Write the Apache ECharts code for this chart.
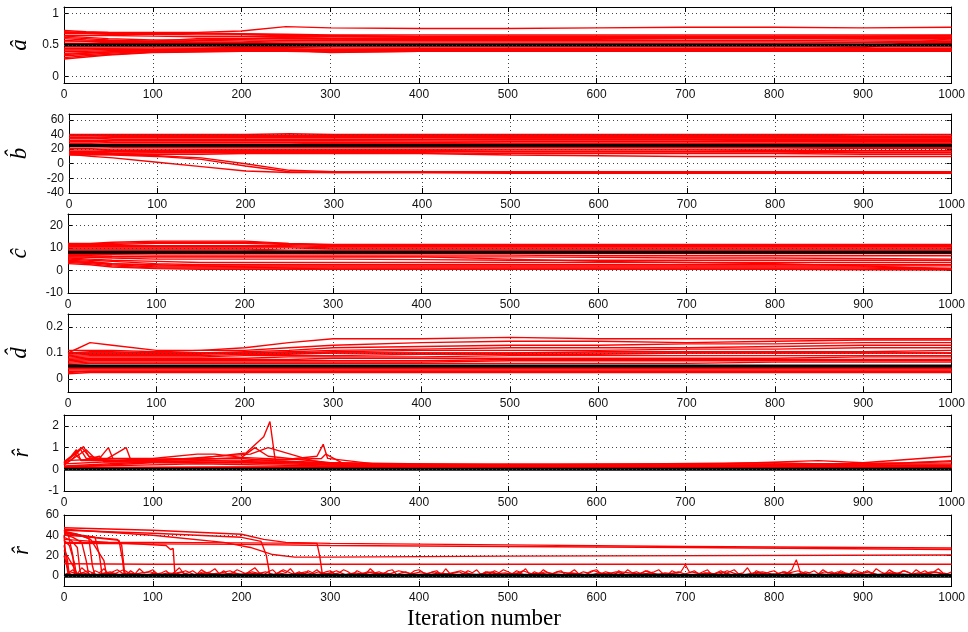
<!DOCTYPE html>
<html><head><meta charset="utf-8">
<script src="https://cdn.jsdelivr.net/npm/echarts@6/dist/echarts.min.js"></script>
<style>html,body{margin:0;background:#fff}#c{width:968px;height:632px}</style>
</head><body><div id="c"></div>
<script>
// ---------- DATA ----------
const iters = [0,25,50,100,150,200,250,300,400,500,600,700,800,900,1000];

const ticksA = [0,0.5,1];
const ticksB = [-40,-20,0,20,40,60];
const ticksC = [-10,0,10,20];
const ticksD = [0,0.1,0.2];
const ticksR1 = [-1,0,1,2];
const ticksR2 = [0,20,40,60];

const truthA = 0.5, truthB = 25, truthC = 8, truthD = 0.05, truthR1 = 0, truthR2 = 0;

const runsA = [
 [0.70,0.70,0.70,0.70,0.70,0.72,0.79,0.77,0.76,0.76,0.77,0.78,0.78,0.77,0.78],
 [0.73,0.71,0.70,0.69,0.69,0.68,0.67,0.66,0.66,0.66,0.66,0.66,0.66,0.66,0.66],
 [0.68,0.68,0.67,0.67,0.66,0.66,0.65,0.65,0.64,0.64,0.64,0.64,0.64,0.64,0.65],
 [0.65,0.65,0.65,0.64,0.63,0.63,0.63,0.63,0.62,0.62,0.62,0.62,0.62,0.62,0.62],
 [0.62,0.60,0.58,0.56,0.60,0.60,0.61,0.60,0.60,0.60,0.60,0.60,0.60,0.61,0.62],
 [0.60,0.58,0.57,0.55,0.57,0.58,0.58,0.58,0.59,0.59,0.59,0.60,0.60,0.60,0.60],
 [0.57,0.56,0.56,0.56,0.55,0.55,0.57,0.58,0.57,0.57,0.57,0.57,0.57,0.58,0.58],
 [0.55,0.55,0.54,0.54,0.54,0.54,0.55,0.55,0.55,0.55,0.55,0.55,0.55,0.55,0.56],
 [0.52,0.52,0.52,0.52,0.53,0.53,0.53,0.53,0.53,0.53,0.53,0.53,0.53,0.54,0.54],
 [0.47,0.47,0.47,0.47,0.47,0.47,0.47,0.47,0.47,0.47,0.47,0.47,0.47,0.47,0.47],
 [0.45,0.45,0.45,0.45,0.45,0.46,0.46,0.45,0.45,0.45,0.45,0.45,0.45,0.45,0.45],
 [0.42,0.42,0.43,0.43,0.44,0.44,0.44,0.43,0.44,0.44,0.44,0.44,0.44,0.44,0.44],
 [0.40,0.40,0.41,0.42,0.42,0.42,0.42,0.42,0.42,0.42,0.42,0.43,0.43,0.46,0.60],
 [0.37,0.38,0.39,0.41,0.41,0.41,0.41,0.40,0.41,0.41,0.41,0.41,0.41,0.41,0.41],
 [0.33,0.35,0.37,0.40,0.40,0.40,0.40,0.39,0.40,0.40,0.40,0.40,0.40,0.40,0.40],
 [0.30,0.33,0.35,0.39,0.40,0.41,0.41,0.41,0.42,0.42,0.42,0.42,0.42,0.42,0.42],
 [0.28,0.31,0.34,0.38,0.39,0.40,0.40,0.40,0.40,0.40,0.40,0.40,0.40,0.40,0.40],
 [0.64,0.62,0.60,0.58,0.58,0.59,0.62,0.63,0.63,0.64,0.64,0.64,0.64,0.64,0.64],
 [0.50,0.51,0.52,0.52,0.52,0.52,0.52,0.51,0.51,0.51,0.51,0.51,0.51,0.51,0.52],
 [0.44,0.44,0.44,0.43,0.43,0.43,0.42,0.38,0.40,0.41,0.41,0.41,0.41,0.41,0.41],
 [0.71,0.69,0.68,0.68,0.68,0.67,0.66,0.64,0.63,0.63,0.63,0.63,0.63,0.63,0.64],
 [0.35,0.37,0.39,0.42,0.43,0.43,0.43,0.43,0.43,0.43,0.43,0.43,0.43,0.43,0.43]
];

const runsB = [
 [40,40,40,40,40,40,41,40,40,40,40,40,40,40,40],
 [38,38,38,39,39,39,39,39,39,39,39,39,39,38,38],
 [36,36,37,37,37,37,37,37,37,37,37,37,37,37,37],
 [34,34,35,35,35,35,35,35,35,35,35,35,35,35,36],
 [32,32,33,33,33,33,33,33,33,34,34,34,34,34,34],
 [30,30,31,31,31,31,31,31,31,31,31,31,32,32,32],
 [28,28,29,29,29,29,29,29,29,30,30,30,30,30,30],
 [26,26,27,27,27,27,27,28,28,28,28,28,28,28,28],
 [23,23,24,24,24,25,25,25,25,26,26,26,26,26,27],
 [21,21,22,22,22,22,22,22,22,22,22,22,22,22,22],
 [19,19,20,20,20,20,20,20,20,20,20,20,20,21,21],
 [17,17,18,18,19,19,19,19,19,19,19,19,18,18,18],
 [15,15,16,16,17,17,17,17,17,16,16,16,16,15,15],
 [13,14,14,15,15,15,15,15,15,14,14,14,14,13,13],
 [12,12,13,13,13,14,14,14,14,12,11,10,10,10,10],
 [39,39,39,38,38,38,38,38,38,38,38,38,38,37,37],
 [35,35,36,36,36,36,36,36,36,36,36,36,36,36,35],
 [31,31,32,32,32,32,32,32,33,33,33,33,33,33,33],
 [24,24,25,26,26,26,26,26,27,27,27,27,27,28,28],
 [16,16,17,17,18,18,18,18,18,17,17,17,17,16,16],
 [13,10,8,2,-4,-10,-12,-12,-12,-12,-12,-12,-12,-12,-12],
 [14,13,12,10,6,-3,-11,-12,-12,-13,-13,-13,-13,-13,-13],
 [15,14,13,11,8,0,-9,-11,-11,-11,-11,-11,-11,-11,-11]
];

const runsC = [
 [12,12,12.5,13,13,13,12,11.5,11.5,11.5,11.5,11.5,11.5,11.5,11.5],
 [11.5,11.5,11.5,12,12,12,11.5,11,11,11,11,11,11,11,11],
 [11,11,11,11,11,11,11,10.5,10.5,10.5,10.5,10.5,10.5,10.5,10.5],
 [10.5,10.5,10.5,10.5,10.5,10.5,10.5,10,10,10,10,10,10,10,10],
 [10,10,10,10,10,10,10,9.5,9.5,9.5,9.5,9.5,9.5,9.5,9.5],
 [9.5,9.5,9.5,9.5,9.5,9.5,9,9,9,9,9,9,9,9,9],
 [9,9,9,9,9,9,8.5,8.5,8.5,8.5,8.5,8.5,8.5,8.5,8.5],
 [7.5,7.5,7.5,7.5,7.5,7.5,7.5,7.5,7.5,7.5,7.5,7.5,7.5,7.5,7.5],
 [7,7,7,6.8,6.8,6.8,6.8,6.8,6.8,6.8,6.5,6.5,6.5,6.5,6.5],
 [6.5,6.5,6.3,6,6,6,6,6,6,6,5.8,5.5,5.5,5.3,5],
 [6,5.8,5.5,5,5,5,5,5,4.8,4.5,4.5,4.5,4.5,4.5,4.5],
 [5.5,5,4.5,4,3.5,3.5,3.5,3.5,3.5,3.5,3.5,3.5,3.5,3.5,3.5],
 [5,4.5,4,3,2.5,2.5,2.5,2.5,2.5,2.5,2.5,2.5,2.5,2.5,2.5],
 [4.5,4,3,2,2,2,2,2,2,2,2,2,2,2,2],
 [4,3.5,2.5,1.5,1.5,1.5,1.5,1.5,1.5,1.5,1.5,1.5,1.5,1.5,1],
 [3.5,3,2,1,1,1,1,1,1,1,1,1,1,1,0.5],
 [4,3.5,3,2.5,2,1.5,1,0.5,0.5,0.5,0.5,0.5,0.5,0.3,0.2],
 [6,6,6,6,6,6,6,6,6,5,4,3.5,3,2,0.5],
 [11.8,11.8,12,12.5,12.5,12.5,11.8,11.2,11.2,11.2,11.2,11.2,11.2,11.2,11.2],
 [8.5,8.5,8.5,8.5,8.5,8.5,8.3,8.2,8.2,8.2,8.2,8.2,8.2,8.2,8.2],
 [3,2.5,1.5,0.8,0.5,0.5,0.5,0.5,0.5,0.5,0.5,0.5,0.5,0.5,0.5]
];

const runsD = [
 [0.10,0.14,0.13,0.11,0.11,0.12,0.14,0.155,0.155,0.16,0.155,0.155,0.155,0.155,0.155],
 [0.11,0.11,0.11,0.105,0.11,0.11,0.12,0.13,0.14,0.145,0.145,0.14,0.145,0.15,0.15],
 [0.10,0.105,0.105,0.10,0.10,0.105,0.11,0.12,0.125,0.13,0.13,0.135,0.135,0.14,0.14],
 [0.095,0.10,0.10,0.10,0.10,0.10,0.105,0.11,0.115,0.12,0.12,0.12,0.125,0.13,0.13],
 [0.09,0.095,0.095,0.095,0.095,0.10,0.10,0.105,0.11,0.11,0.11,0.115,0.115,0.12,0.12],
 [0.085,0.09,0.09,0.09,0.09,0.095,0.095,0.10,0.10,0.10,0.105,0.105,0.105,0.105,0.11],
 [0.08,0.085,0.085,0.085,0.085,0.09,0.09,0.09,0.095,0.095,0.095,0.10,0.10,0.10,0.10],
 [0.075,0.08,0.08,0.08,0.08,0.08,0.085,0.085,0.085,0.09,0.09,0.09,0.09,0.09,0.09],
 [0.07,0.075,0.075,0.075,0.075,0.075,0.075,0.08,0.08,0.08,0.08,0.08,0.08,0.085,0.085],
 [0.065,0.07,0.07,0.07,0.07,0.07,0.07,0.07,0.07,0.075,0.075,0.075,0.075,0.075,0.075],
 [0.06,0.065,0.065,0.065,0.065,0.065,0.065,0.065,0.065,0.07,0.07,0.07,0.07,0.07,0.07],
 [0.055,0.06,0.06,0.06,0.06,0.06,0.06,0.06,0.06,0.06,0.06,0.06,0.065,0.065,0.065],
 [0.045,0.045,0.045,0.045,0.045,0.045,0.045,0.045,0.045,0.045,0.045,0.045,0.045,0.045,0.045],
 [0.04,0.04,0.04,0.04,0.04,0.04,0.04,0.04,0.04,0.04,0.04,0.04,0.04,0.04,0.04],
 [0.035,0.035,0.035,0.035,0.035,0.035,0.035,0.035,0.035,0.035,0.035,0.035,0.035,0.035,0.035],
 [0.03,0.03,0.03,0.03,0.03,0.03,0.03,0.03,0.03,0.03,0.03,0.03,0.03,0.03,0.03],
 [0.025,0.03,0.03,0.03,0.03,0.03,0.03,0.03,0.03,0.03,0.03,0.03,0.03,0.03,0.03],
 [0.02,0.025,0.025,0.025,0.025,0.025,0.025,0.025,0.025,0.025,0.025,0.025,0.025,0.025,0.025],
 [0.1,0.1,0.1,0.1,0.1,0.1,0.1,0.1,0.1,0.1,0.1,0.1,0.1,0.1,0.1]
];

const runsR1 = [
 [[0,0.2],[10,0.5],[20,1.0],[30,0.5],[60,0.4],[100,0.45],[200,0.5],[300,0.2],[500,0.1],[1000,0.1]],
 [[0,0.3],[15,0.8],[22,1.05],[28,0.6],[40,0.5],[50,1.0],[55,0.5],[100,0.4],[150,0.45],[200,0.55],[215,1.0],[230,0.6],[300,0.3],[400,0.2],[1000,0.15]],
 [[0,0.2],[25,0.9],[35,0.5],[45,0.4],[70,1.0],[75,0.45],[150,0.5],[205,0.75],[225,1.5],[232,2.2],[238,0.4],[300,0.3],[500,0.2],[1000,0.2]],
 [[0,0.3],[18,0.95],[25,0.5],[100,0.5],[150,0.7],[170,0.7],[200,0.55],[250,0.45],[285,0.6],[292,1.15],[297,0.5],[350,0.25],[1000,0.25]],
 [[0,0.25],[12,0.7],[20,0.4],[100,0.4],[210,0.7],[230,1.0],[280,0.4],[310,0.2],[700,0.2],[850,0.4],[900,0.3],[1000,0.6]],
 [[0,0.15],[100,0.35],[200,0.4],[290,0.5],[295,0.7],[320,0.15],[1000,0.15]],
 [[0,0.1],[100,0.3],[300,0.3],[400,0.15],[800,0.3],[900,0.2],[1000,0.4]],
 [[0,0.35],[8,0.6],[14,0.9],[19,0.4],[40,0.6],[45,0.35],[120,0.45],[300,0.25],[600,0.1],[1000,0.1]],
 [[0,0.05],[200,0.1],[500,0.05],[1000,0.05]],
 [[0,0.12],[150,0.25],[300,0.15],[600,0.12],[1000,0.1]],
 [[0,0.25],[50,0.35],[150,0.3],[250,0.35],[320,0.2],[700,0.15],[950,0.3],[1000,0.35]],
 [[0,0.08],[300,0.12],[1000,0.05]],
 [[0,0.4],[30,0.45],[100,0.35],[200,0.3],[300,0.2],[1000,0.18]]
];

const runsR2 = [
 [[0,47.5],[100,45],[200,41],[225,36],[250,33],[300,32],[500,30.5],[700,29],[1000,27.5]],
 [[0,46],[100,40],[180,33],[210,28],[235,21],[260,18.5],[300,18.5],[500,19.5],[1000,20.5]],
 [[0,33],[100,33],[200,32.5],[285,32],[288,20],[291,2],[295,0]],
 [[0,32],[100,31.5],[200,31],[300,30],[500,29],[700,28],[1000,26]],
 [[0,12],[100,11.5],[1000,11.5]],
 [[0,45],[100,42],[200,38],[222,34],[228,20],[232,0]],
 [[0,40],[20,39],[60,36],[65,30],[68,5],[70,0]],
 [[0,42],[30,38],[62,35],[66,15],[68,0]],
 [[0,36],[50,33],[115,30],[120,26],[123,27],[125,0]],
 [[0,43],[20,40],[35,38],[40,20],[43,0]],
 [[0,44],[15,41],[28,37],[32,10],[35,0]],
 [[0,41],[10,38],[20,33],[25,15],[28,0]],
 [[0,38],[8,35],[15,28],[18,5],[20,0]],
 [[0,45],[5,40],[10,20],[12,0]],
 [[0,30],[4,15],[6,0]],
 [[0,40],[3,10],[5,0]],
 [[0,25],[10,10],[15,2]],
 [[0,43],[18,40],[30,36],[45,15],[48,0]],
 [[0,35],[6,30],[12,12],[14,0]],
 [[0,20],[5,5],[8,0]]
];

// noise near zero in the last panel, one value every 5 iterations
const noiseR2 = [
 0,3,6,2,8,4,1,5,3,7, 2,4,6,3,1,5,2,7,3,4, 6,2,3,5,1,4,8,2,3,5, 2,6,3,4,7,2,5,1,3,6,
 4,2,5,8,3,1,4,6,2,5, 3,7,2,4,1,5,3,6,2,4, 5,2,3,6,4,1,5,3,2,7, 3,4,2,5,6,1,3,4,2,5,
 6,3,2,4,5,1,7,2,3,4, 2,5,3,6,1,4,2,5,3,6, 4,2,5,3,7,1,4,2,6,3, 2,4,5,1,3,6,2,4,3,5,
 6,2,4,3,1,5,2,6,3,4, 2,5,3,4,6,2,1,5,3,4, 11,3,5,2,4,6,1,3,5,2, 4,6,2,3,8,1,5,3,2,4,
 5,2,4,3,6,16,2,4,3,5, 2,6,3,4,1,5,3,2,6,4, 3,5,2,7,4,2,6,3,1,5, 4,2,6,3,5,2,4,7,3,2,
 4
];
// second and third noise traces, one value every 10 iterations
const noiseR2b = [
 2,1,3,0,2,4,1,3,2,0, 3,1,2,4,0,2,3,1,2,3, 1,4,2,0,3,1,2,4,1,2, 3,0,2,1,4,2,3,1,0,2,
 4,1,3,2,0,3,1,2,4,1, 2,3,0,1,4,2,1,3,2,0, 3,2,4,1,0,2,3,1,2,4, 1,0,3,2,4,1,2,0,3,1,
 2,4,1,3,0,2,1,4,2,3, 1,2,0,4,2,1,3,2,4,1
];
const noiseR2c = [
 4,2,5,1,3,2,6,1,3,4, 1,3,2,5,1,4,2,3,5,1, 3,2,4,1,6,2,3,1,4,2, 5,1,3,2,4,1,2,5,3,1,
 2,4,1,3,5,2,1,4,2,3, 1,5,2,3,1,4,3,2,1,5, 2,1,4,3,2,5,1,3,2,1, 4,2,3,1,5,2,1,3,4,2,
 1,3,5,2,1,4,2,3,1,2, 4,1,3,2,5,1,2,4,3,1
];

const yNames = ['\u00e2','b\u0302','\u0109','d\u0302','r\u0302','r\u0302'];
const xLabel = 'Iteration number';

// ---------- LAYOUT ----------
const layout = [
 {top:7,   height:76, min:-0.1, max:1.1,  gap:33},
 {top:114, height:79, min:-40,  max:68,   gap:38},
 {top:214, height:79, min:-10,  max:25,   gap:37},
 {top:314, height:78, min:-0.05,max:0.25, gap:37},
 {top:415, height:76, min:-1,   max:2.5,  gap:31},
 {top:515, height:71, min:-10,  max:60,   gap:31}
];
const ticksList = [ticksA,ticksB,ticksC,ticksD,ticksR1,ticksR2];
const truthList = [truthA,truthB,truthC,truthD,truthR1,truthR2];

const chart = echarts.init(document.getElementById('c'), null, {renderer:'canvas'});
const grids=[], xAxes=[], yAxes=[], series=[];
const lab = {color:'#111', fontSize:12, fontFamily:'Liberation Sans, Arial, sans-serif'};
const dotted = {type:[1,3], color:'#444', width:1};

layout.forEach((L,i)=>{
  grids.push({left:64, width:890, top:L.top, height:L.height});
  xAxes.push({type:'value', gridIndex:i, min:0, max:1000, interval:100, position:'bottom',
    axisLine:{show:true, onZero:false, lineStyle:{color:'#000', width:1}},
    axisTick:{inside:true, length:5, lineStyle:{color:'#000'}},
    axisLabel:Object.assign({margin:6, formatter:v=>String(v)}, lab),
    splitLine:{show:true, lineStyle:dotted}});
  xAxes.push({type:'value', gridIndex:i, min:0, max:1000, interval:100, position:'top',
    axisLine:{show:true, onZero:false, lineStyle:{color:'#000', width:1}},
    axisTick:{inside:true, length:5, lineStyle:{color:'#000'}},
    axisLabel:{show:false}, splitLine:{show:false}});
  const tv = ticksList[i];
  yAxes.push({type:'value', gridIndex:i, min:L.min, max:L.max, position:'left',
    name:yNames[i], nameLocation:'middle', nameGap:L.gap, nameRotate:90,
    nameTextStyle:{fontFamily:'Liberation Serif, DejaVu Serif, serif', fontStyle:'italic', fontSize:23, color:'#000'},
    axisLine:{show:true, onZero:false, lineStyle:{color:'#000', width:1}},
    axisTick:{inside:true, length:5, customValues:tv, lineStyle:{color:'#000'}},
    axisLabel:Object.assign({margin:5, customValues:tv, formatter:v=>String(v)}, lab),
    splitLine:{show:false}});
  yAxes.push({type:'value', gridIndex:i, min:L.min, max:L.max, position:'right',
    axisLine:{show:true, onZero:false, lineStyle:{color:'#000', width:1}},
    axisTick:{inside:true, length:5, customValues:tv, lineStyle:{color:'#000'}},
    axisLabel:{show:false}, splitLine:{show:false}});
  // horizontal dotted grid lines
  series.push({type:'line', xAxisIndex:2*i, yAxisIndex:2*i, z:1, silent:true, symbol:'none',
    data:[[0,truthList[i]],[1000,truthList[i]]], lineStyle:{opacity:0},
    markLine:{silent:true, symbol:['none','none'], label:{show:false}, lineStyle:dotted,
      emphasis:{disabled:true}, animation:false,
      data:tv.filter(v=>v>L.min && v<L.max).map(v=>({yAxis:v}))}});
});

function redLine(i, data, w){
  return {type:'line', xAxisIndex:2*i, yAxisIndex:2*i, z:2, silent:true, symbol:'none',
    data:data, lineStyle:{color:'#ff0000', width:w||1.4}, emphasis:{disabled:true}};
}
[runsA,runsB,runsC,runsD].forEach((runs,i)=>{
  runs.forEach(r=>series.push(redLine(i, iters.map((x,k)=>[x,r[k]]))));
});
runsR1.forEach(r=>series.push(redLine(4, r)));
runsR2.forEach(r=>series.push(redLine(5, r)));
series.push(redLine(5, noiseR2.map((v,k)=>[k*5, v]), 1.2));
series.push(redLine(5, noiseR2b.map((v,k)=>[2+k*10, v]), 1.2));
series.push(redLine(5, noiseR2c.map((v,k)=>[7+k*10, v]), 1.2));

truthList.forEach((t,i)=>{
  series.push({type:'line', xAxisIndex:2*i, yAxisIndex:2*i, z:3, silent:true, symbol:'none',
    data:[[0,t],[1000,t]], lineStyle:{color:'#000', width:i===5?4:3}});
});

chart.setOption({
  animation:false, backgroundColor:'#fff',
  grid:grids, xAxis:xAxes, yAxis:yAxes, series:series,
  graphic:[{type:'text', left:'center', top:607, x:0,
    style:{text:xLabel, font:'23px "Liberation Serif", "DejaVu Serif", serif', fill:'#000'}}]
});
</script></body></html>
